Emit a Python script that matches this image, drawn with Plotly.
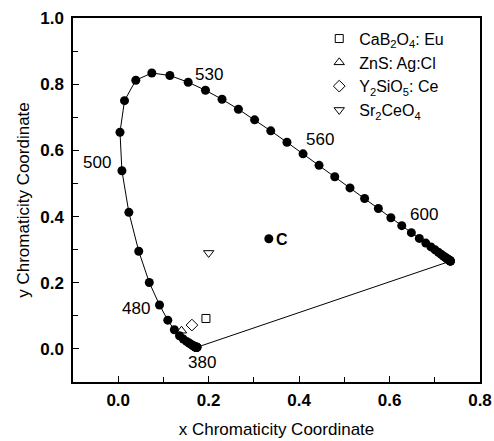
import plotly.graph_objects as go

# CIE 1931 spectral locus, 5 nm steps (380-700 nm)
wavelengths = list(range(380, 705, 5))
locus_x = [0.1741, 0.1740, 0.1738, 0.1736, 0.1733, 0.1730, 0.1726, 0.1721, 0.1714, 0.1703,
           0.1689, 0.1669, 0.1644, 0.1611, 0.1566, 0.1510, 0.1440, 0.1355, 0.1241, 0.1096,
           0.0913, 0.0687, 0.0454, 0.0235, 0.0082, 0.0039, 0.0139, 0.0389, 0.0743, 0.1142,
           0.1547, 0.1929, 0.2296, 0.2658, 0.3016, 0.3373, 0.3731, 0.4087, 0.4441, 0.4788,
           0.5125, 0.5448, 0.5752, 0.6029, 0.6270, 0.6482, 0.6658, 0.6801, 0.6915, 0.7006,
           0.7079, 0.7140, 0.7190, 0.7230, 0.7260, 0.7283, 0.7300, 0.7311, 0.7320, 0.7327,
           0.7334, 0.7340, 0.7344, 0.7346, 0.7347]
locus_y = [0.0050, 0.0050, 0.0049, 0.0049, 0.0048, 0.0048, 0.0048, 0.0048, 0.0051, 0.0058,
           0.0069, 0.0086, 0.0109, 0.0138, 0.0177, 0.0227, 0.0297, 0.0399, 0.0578, 0.0868,
           0.1327, 0.2007, 0.2950, 0.4127, 0.5384, 0.6548, 0.7502, 0.8120, 0.8338, 0.8262,
           0.8059, 0.7816, 0.7543, 0.7243, 0.6923, 0.6589, 0.6245, 0.5896, 0.5547, 0.5202,
           0.4866, 0.4544, 0.4242, 0.3965, 0.3725, 0.3514, 0.3340, 0.3197, 0.3083, 0.2993,
           0.2920, 0.2859, 0.2809, 0.2770, 0.2740, 0.2717, 0.2700, 0.2689, 0.2680, 0.2673,
           0.2666, 0.2660, 0.2656, 0.2654, 0.2653]

# labelled wavelengths and text offsets (px)
label_wl = [380, 480, 500, 530, 560, 600]
label_dx = [5, -24, -25, 21, 33, 22]
label_dy = [-15, -3, 8, 8, 3, 11]

# white point
c_x, c_y = 0.333, 0.333

# phosphors
phos_names = ["CaB<sub>2</sub>O<sub>4</sub>: Eu", "ZnS: Ag:Cl",
              "Y<sub>2</sub>SiO<sub>5</sub>: Ce", "Sr<sub>2</sub>CeO<sub>4</sub>"]
phos_x = [0.194, 0.140, 0.163, 0.200]
phos_y = [0.092, 0.055, 0.072, 0.290]
phos_sym = ["square-open", "triangle-up-open", "diamond-open", "triangle-down-open"]
phos_size = [8, 9, 9, 9]

FONT = "Arial, Liberation Sans, sans-serif"
FS = 17

fig = go.Figure()

# purple line
fig.add_trace(go.Scatter(x=[locus_x[0], locus_x[-1]], y=[locus_y[0], locus_y[-1]],
                         mode="lines", line=dict(color="black", width=1),
                         showlegend=False, hoverinfo="skip"))
# spectral locus
fig.add_trace(go.Scatter(x=locus_x, y=locus_y, mode="lines+markers",
                         line=dict(color="black", width=1),
                         marker=dict(color="black", size=9),
                         showlegend=False))
# C point
fig.add_trace(go.Scatter(x=[c_x], y=[c_y], mode="markers",
                         marker=dict(color="black", size=9), showlegend=False))

for n, x, y, s, sz in zip(phos_names, phos_x, phos_y, phos_sym, phos_size):
    fig.add_trace(go.Scatter(x=[x], y=[y], mode="markers", name=n,
                             marker=dict(symbol=s, size=sz, color="black",
                                         line=dict(color="black", width=1))))

for wl, dx, dy in zip(label_wl, label_dx, label_dy):
    i = wavelengths.index(wl)
    fig.add_annotation(x=locus_x[i], y=locus_y[i], text=str(wl), showarrow=False,
                       xshift=dx, yshift=dy, font=dict(size=FS, color="black", family=FONT))

fig.add_annotation(x=c_x, y=c_y, text="<b>C</b>", showarrow=False, xshift=13, yshift=-1,
                   font=dict(size=FS - 1, color="black", family=FONT))

axis_common = dict(showgrid=False, zeroline=False, showline=True, linecolor="black",
                   linewidth=1.5, mirror=True, ticks="inside", ticklen=6, tickwidth=1.2,
                   tickcolor="black", dtick=0.2, tickformat=".1f", automargin=False,
                   tickfont=dict(size=FS, color="black", family=FONT, weight="bold"),
                   minor=dict(dtick=0.1, ticks="inside", ticklen=5, tickwidth=1.2,
                              tickcolor="black"))

fig.update_xaxes(range=[-0.1, 0.8], tick0=0, ticklabelstandoff=2,
                 title=dict(text="x Chromaticity Coordinate",
                            font=dict(size=FS, color="black", family=FONT), standoff=14),
                 **axis_common)
fig.update_yaxes(range=[-0.1, 1.0], tick0=0, ticklabelstandoff=4,
                 title=dict(text="y Chromaticity Coordinate",
                            font=dict(size=FS, color="black", family=FONT), standoff=6),
                 **axis_common)

fig.update_layout(width=494, height=441,
                  margin=dict(l=73, r=14, t=18, b=59),
                  plot_bgcolor="white", paper_bgcolor="white",
                  font=dict(family=FONT, color="black"),
                  legend=dict(x=0.605, y=0.99, xanchor="left", yanchor="top",
                              bgcolor="rgba(0,0,0,0)", font=dict(size=16, color="black", family=FONT),
                              itemwidth=30, tracegroupgap=0))

fig.write_html("out.html", config={"displayModeBar": False},
               post_script="document.body.style.margin='0';document.body.style.overflow='hidden';")
